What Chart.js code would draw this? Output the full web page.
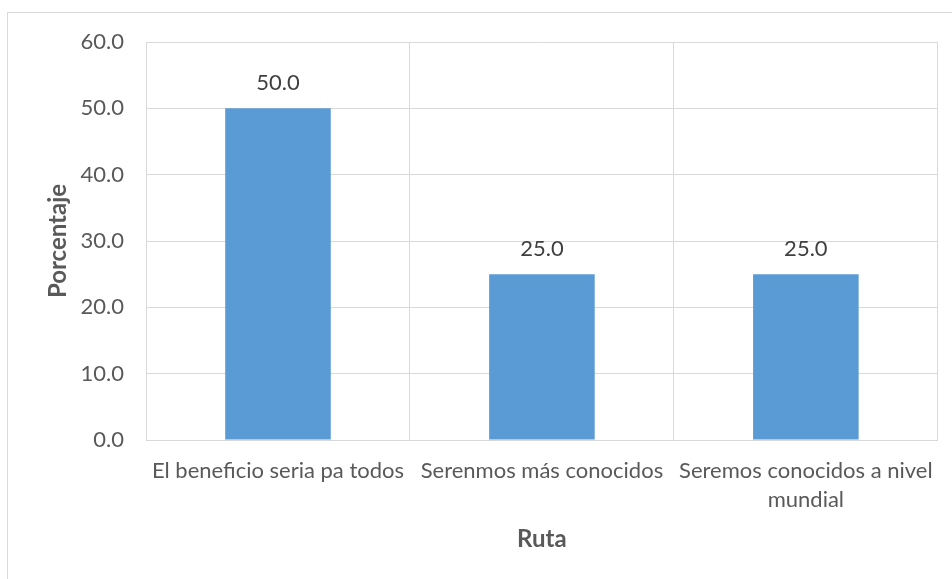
<!DOCTYPE html>
<html>
<head>
<meta charset="utf-8">
<script src="https://cdn.jsdelivr.net/npm/chart.js@4"></script>
<style>
  body { margin: 0; background: #fff; }
  #wrap { position: relative; width: 952px; height: 579px; overflow: hidden; }
  #frame { position: absolute; left: 7px; top: 12px; width: 2000px; height: 2000px;
           border-left: 1px solid #d9d9d9; border-top: 1px solid #d9d9d9; }
  canvas { position: absolute; left: 0; top: 0; }
</style>
</head>
<body>
<div id="wrap">
  <div id="frame"></div>
  <canvas id="chart" width="952" height="579"></canvas>
</div>
<script>
// Chart data
const categories = [
    'El beneficio seria pa todos',
    'Serenmos más conocidos',
    ['Seremos conocidos a nivel', 'mundial']
];
const percentages = [50.0, 25.0, 25.0];
const yTickMin = 0;
const yTickMax = 60;
const yTickStep = 10;

const textColor = '#595959';
const fontFamily = 'Lato, "Open Sans", sans-serif';

// draw value labels above each bar
const barLabels = {
    id: 'barLabels',
    afterDatasetsDraw(chart) {
        const ctx = chart.ctx;
        const meta = chart.getDatasetMeta(0);
        ctx.save();
        ctx.font = '22px ' + fontFamily;
        ctx.fillStyle = '#404040';
        ctx.textAlign = 'center';
        ctx.textBaseline = 'middle';
        meta.data.forEach(function(bar, i) {
            ctx.fillText(percentages[i].toFixed(1), bar.x, bar.y - 25);
        });
        ctx.restore();
    }
};

new Chart(document.getElementById('chart'), {
    type: 'bar',
    data: {
        labels: categories,
        datasets: [{
            data: percentages,
            backgroundColor: '#5B9BD5',
            borderWidth: 0,
            barPercentage: 0.4,
            categoryPercentage: 1.0
        }]
    },
    options: {
        responsive: false,
        animation: false,
        layout: {
            padding: { left: 40, top: 42, right: 14, bottom: 20 }
        },
        plugins: {
            legend: { display: false },
            tooltip: { enabled: false }
        },
        scales: {
            x: {
                grid: { color: '#d9d9d9', lineWidth: 1, drawTicks: false, offset: true },
                border: { color: '#d9d9d9' },
                ticks: {
                    color: textColor,
                    padding: 17,
                    maxRotation: 0,
                    autoSkip: false,
                    font: { family: fontFamily, size: 22, lineHeight: 1.3 }
                },
                title: {
                    display: true,
                    text: 'Ruta',
                    color: textColor,
                    padding: { top: 0, bottom: 5 },
                    font: { family: fontFamily, size: 24, weight: 'bold' }
                },
                afterFit: function(scale) { scale.height = 119; }
            },
            y: {
                min: yTickMin,
                max: yTickMax,
                grid: { color: '#d9d9d9', lineWidth: 1, drawTicks: false },
                border: { color: '#d9d9d9' },
                ticks: {
                    stepSize: yTickStep,
                    color: textColor,
                    padding: 22,
                    font: { family: fontFamily, size: 22 },
                    callback: function(v) { return v.toFixed(1); }
                },
                title: {
                    display: true,
                    text: 'Porcentaje',
                    color: textColor,
                    padding: { top: 4, bottom: 0 },
                    font: { family: fontFamily, size: 24, weight: 'bold' }
                },
                afterFit: function(scale) { scale.width = 106; }
            }
        }
    },
    plugins: [barLabels]
});
</script>
</body>
</html>
